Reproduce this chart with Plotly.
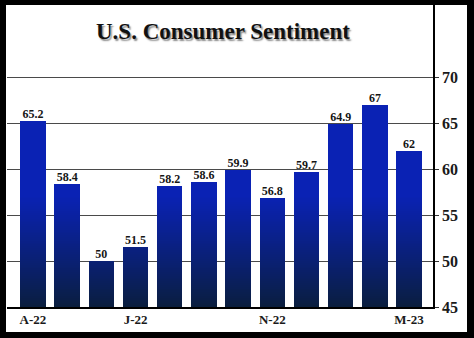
import plotly.graph_objects as go
import numpy as np

# ---- data ----
months = ["Apr 22", "May 22", "Jun 22", "Jul 22", "Aug 22", "Sep 22",
          "Oct 22", "Nov 22", "Dec 22", "Jan 23", "Feb 23", "Mar 23"]
values = [65.2, 58.4, 50, 51.5, 58.2, 58.6, 59.9, 56.8, 59.7, 64.9, 67, 62]
value_labels = ["65.2", "58.4", "50", "51.5", "58.2", "58.6", "59.9", "56.8",
                "59.7", "64.9", "67", "62"]
tick_positions = [0, 3, 7, 11]
tick_labels = ["A-22", "J-22", "N-22", "M-23"]
y_ticks = [45, 50, 55, 60, 65, 70]
title_text = "U.S. Consumer Sentiment"

SERIF = "Liberation Serif"
x = list(range(len(values)))

# gradient colours (value-level based)
dark = np.array([10, 30, 62])
bright = np.array([10, 34, 180])
g_lo, g_hi = 45.0, 57.0
levels = np.arange(g_lo, g_hi + 0.001, 0.2)

fig = go.Figure()
for lo in levels:
    t = (lo - g_lo) / (g_hi - g_lo)
    t = min(max(t, 0), 1)
    c = dark + (bright - dark) * (t ** 0.9)
    col = "rgb(%d,%d,%d)" % tuple(int(round(v)) for v in c)
    ys = [v - lo if v > lo else None for v in values]
    fig.add_trace(go.Bar(x=x, y=ys, base=[lo] * len(values), width=0.745,
                         marker=dict(color=col, line=dict(width=0)),
                         hoverinfo="skip", showlegend=False))

fig.add_trace(go.Scatter(x=x, y=values, mode="text",
                         text=["<b>%s</b>" % s for s in value_labels],
                         textposition="top center",
                         textfont=dict(family=SERIF, size=12, color="#151515"),
                         showlegend=False, hoverinfo="skip", cliponaxis=False))

W, H = 474, 338
ml, mr, mt, mb = 7, 41, 5, 31
pw = W - ml - mr
ph = H - mt - mb

def px_x(p):
    return (p - ml) / pw

def px_y(p):
    return (H - mb - p) / ph

fig.add_shape(type="rect", xref="paper", yref="paper",
              x0=px_x(6), x1=px_x(467), y0=px_y(332), y1=px_y(5),
              fillcolor="white", line=dict(width=0), layer="below")

# title with soft shadow
fig.add_annotation(x=px_x(223), y=px_y(31), xref="paper", yref="paper",
                   xanchor="center", yanchor="middle",
                   text="<b>%s</b>" % title_text, showarrow=False,
                   font=dict(family=SERIF, size=23, color="#111111",
                             shadow="1.5px 1.5px 1.5px #8a8a8a"))

fig.update_layout(
    width=W, height=H,
    margin=dict(l=ml, r=mr, t=mt, b=mb),
    paper_bgcolor="black", plot_bgcolor="white",
    barmode="overlay", bargap=0,
    xaxis=dict(range=[-0.76, 11.70], tickvals=tick_positions,
               ticktext=["<b>%s</b>" % t for t in tick_labels],
               tickfont=dict(family=SERIF, size=13, color="#1a1a1a"),
               showgrid=False, zeroline=False, showline=True,
               linecolor="black", linewidth=1.5, ticks="", fixedrange=True),
    yaxis=dict(range=[45, 77.83], side="right", tickvals=y_ticks,
               ticktext=["<b>%d</b>" % v for v in y_ticks],
               tickfont=dict(family=SERIF, size=16, color="#1a1a1a"),
               showgrid=True, gridcolor="#4a4a4a", gridwidth=1,
               zeroline=False, showline=True, linecolor="black", linewidth=1.5,
               ticks="outside", ticklen=4, tickcolor="#333", fixedrange=True),
)

fig.write_html("out.html")
